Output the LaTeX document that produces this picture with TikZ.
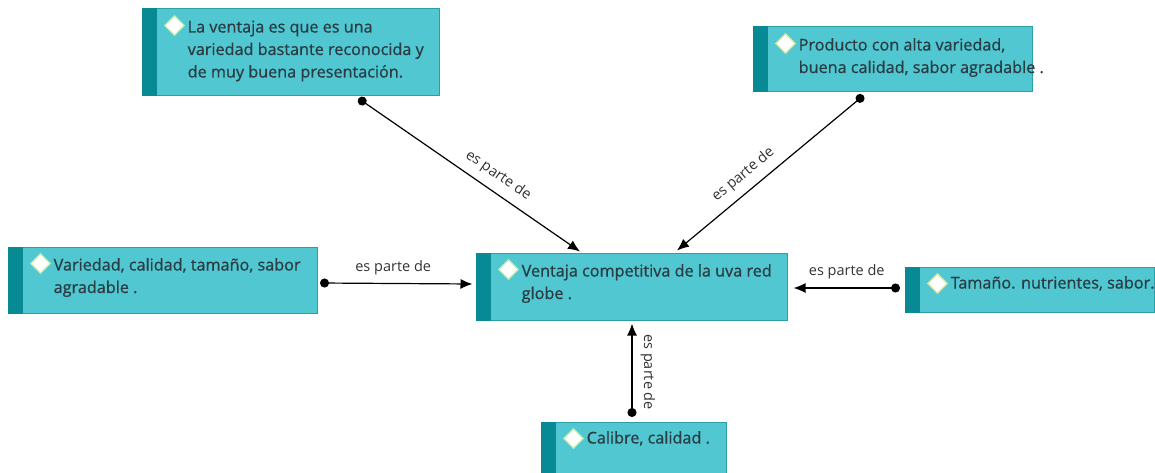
\documentclass[tikz,border=0pt]{standalone}
\usepackage{fontspec}
\setmainfont{Open Sans}
\newfontfamily\conceptfont{Open Sans}[FakeBold=0.7]
\usetikzlibrary{arrows.meta,shapes.geometric}

\definecolor{boxfill}{HTML}{50C7D1}
\definecolor{boxline}{HTML}{2A9FA8}
\definecolor{boxband}{HTML}{078A93}
\definecolor{boxtext}{HTML}{2B3B42}
\definecolor{bulletline}{HTML}{CFE8A8}

\tikzset{
  concept/.style={draw=boxline, fill=boxfill, line width=1pt, inner sep=0pt},
  band/.style={fill=boxband},
  bullet/.style={diamond, draw=bulletline, fill=white, line width=1.2pt,
    minimum width=20pt, minimum height=20pt, inner sep=0pt},
  ctext/.style={anchor=base west, align=left, inner sep=0pt, text=boxtext,
    font=\conceptfont\fontsize{16.2}{22.5}\selectfont},
  link/.style={line width=1.2pt, {Circle[length=9pt]}-{Latex[length=12pt,width=10pt]}},
  linklabel/.style={font=\fontsize{14.5}{16}\selectfont, text=black!80,
    inner xsep=0pt, inner ysep=8pt}
}

\begin{document}
\begin{tikzpicture}[x=1pt,y=1pt]
\useasboundingbox (0,0) rectangle (1155,472);

\node [concept, minimum width=297pt, minimum height=87pt] (ventaja) at (290.5,419.5) {};
\node [concept, minimum width=279pt, minimum height=65pt] (producto) at (892.5,412.5) {};
\node [concept, minimum width=309pt, minimum height=66pt] (variedad) at (162.5,192) {};
\node [concept, minimum width=311pt, minimum height=67pt] (competitiva) at (631.5,185.5) {};
\node [concept, minimum width=249pt, minimum height=45pt] (tamano) at (1029.5,182.5) {};
\node [concept, minimum width=185pt, minimum height=58pt] (calibre) at (633.5,21) {};

\foreach \n in {ventaja,producto,variedad,competitiva,tamano,calibre} {
  \fill [band] (\n.north west) rectangle ([xshift=15pt]\n.south west);
  \node [bullet] (\n-mark) at ([shift={(33pt,-17pt)}]\n.north west) {};
}

% base anchor sits on the last line
\node [ctext] (ventaja-text) at ([shift={(46pt,-69pt)}]ventaja.north west)
  {La ventaja es que es una\\variedad bastante reconocida y\\de muy buena presentación.};
\node [ctext] (producto-text) at ([shift={(46pt,-46.5pt)}]producto.north west)
  {Producto con alta variedad,\\buena calidad, sabor agradable .};
\node [ctext] (variedad-text) at ([shift={(46pt,-46.5pt)}]variedad.north west)
  {Variedad, calidad, tamaño, sabor\\agradable .};
\node [ctext] (competitiva-text) at ([shift={(46pt,-46.5pt)}]competitiva.north west)
  {Ventaja competitiva de la uva red\\globe .};
\node [ctext] (tamano-text) at ([shift={(46pt,-22pt)}]tamano.north west)
  {Tamaño. nutrientes, sabor.};
\node [ctext] (calibre-text) at ([shift={(46pt,-22pt)}]calibre.north west)
  {Calibre, calidad .};

\draw [link] ([shift={(68pt,-2pt)}]ventaja.south) -- ([shift={(-51.5pt,1pt)}]competitiva.north)
  node [linklabel, sloped, above, pos=0.59] {es parte de};
\draw [link] ([shift={(-29pt,-3pt)}]producto.south) -- ([shift={(45.5pt,2pt)}]competitiva.north)
  node [linklabel, sloped, above, pos=0.59] {es parte de};
\draw [link] ([shift={(2.5pt,-3pt)}]variedad.east) -- ([shift={(-3pt,2.5pt)}]competitiva.west)
  node [linklabel, above, pos=0.48] {es parte de};
\draw [link] ([shift={(-4.5pt,1.5pt)}]tamano.west) -- ([shift={(6pt,-1.5pt)}]competitiva.east)
  node [linklabel, above, pos=0.5] {es parte de};
\draw [link] ([shift={(-1.5pt,4.5pt)}]calibre.north) -- ([shift={(0.5pt,-3pt)}]competitiva.south)
  node [linklabel, rotate=-90, anchor=south, pos=0.48] {es parte de};

\end{tikzpicture}
\end{document}
